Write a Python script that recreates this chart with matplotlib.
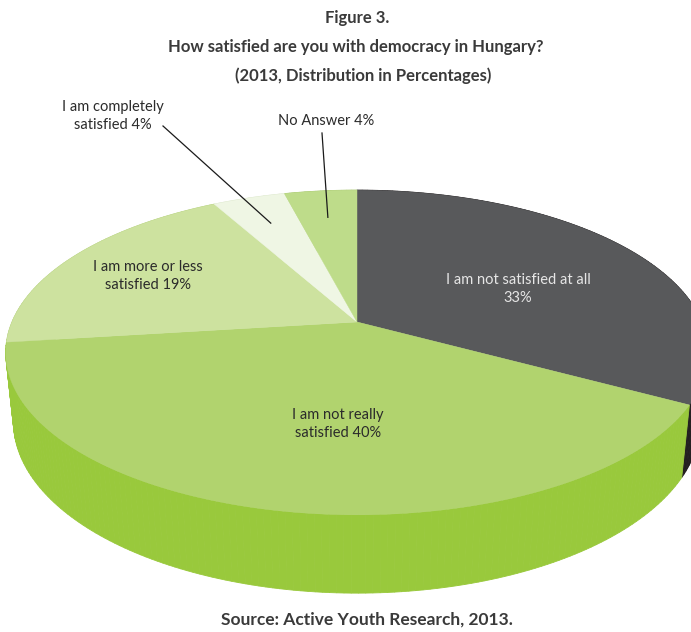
import numpy as np
import matplotlib.pyplot as plt
from matplotlib.patches import Polygon

plt.rcParams['font.family'] = ['Lato', 'DejaVu Sans']

# data
categories = ["I am not satisfied at all", "I am not really satisfied",
              "I am more or less satisfied", "I am completely satisfied", "No Answer"]
values = [33, 40, 19, 4, 4]
label_text = ["I am not satisfied at all\n{}%", "I am not really\nsatisfied {}%",
              "I am more or less\nsatisfied {}%", "I am completely\nsatisfied {}%",
              "No Answer {}%"]
top_colors = ["#58595b", "#b1d36e", "#cde29f", "#eff6e4", "#bedc8a"]
side_colors = ["#231f20", "#99c93c", "#b3cf7c", "#d6e3c4", "#a3c26b"]

# layout (pixel coords) for the labels; None -> inside the slice
label_pos = [(518, 289), (338, 424), (148, 276), (113, 116), (326, 121)]
label_color = ["#e6e6e6", "#2b2b2b", "#2b2b2b", "#2b2b2b", "#2b2b2b"]
leader = [False, False, False, True, True]

W, H = 691, 632
fig = plt.figure(figsize=(W / 100, H / 100), dpi=100)
ax = fig.add_axes([0, 0, 1, 1])
ax.set_xlim(0, W)
ax.set_ylim(H, 0)
ax.axis('off')

# simple perspective camera looking down at the pie
elev = np.radians(27)
dist = 4.75
focal = 1639
cx, cy = 357, 322
thick = 0.226


def project(theta, r=1.0, z=0.0):
    x = r * np.cos(theta)
    y = r * np.sin(theta)
    s, c = np.sin(elev), np.cos(elev)
    v = y * s + z * c
    w = dist + y * c - z * s
    return cx + focal * x / w, cy - focal * v / w


total = sum(values)
bounds = np.radians(90 - 360 * np.concatenate([[0], np.cumsum(values)]) / total)

# side walls, drawn far to near
pieces = []
for i in range(len(values)):
    a0, a1 = bounds[i], bounds[i + 1]
    n = max(2, int(abs(np.degrees(a1 - a0))))
    ts = np.linspace(a0, a1, n + 1)
    for t0, t1 in zip(ts[:-1], ts[1:]):
        p = [project(t0), project(t1), project(t1, z=-thick), project(t0, z=-thick)]
        pieces.append((np.sin((t0 + t1) / 2), p, side_colors[i]))
pieces.sort(key=lambda q: -q[0])
for _, p, col in pieces:
    ax.add_patch(Polygon(p, closed=True, facecolor=col, edgecolor=col, lw=0.6))

# top faces
for i in range(len(values)):
    ts = np.linspace(bounds[i], bounds[i + 1], 200)
    xs, ys = project(ts)
    pts = [(cx, cy)] + list(zip(xs, ys))
    ax.add_patch(Polygon(pts, closed=True, facecolor=top_colors[i],
                         edgecolor=top_colors[i], lw=0.3))

# labels
for i in range(len(values)):
    tx, ty = label_pos[i]
    ax.text(tx, ty, label_text[i].format(values[i]), ha='center', va='center',
            fontsize=10.5, color=label_color[i], linespacing=1.35)
    if leader[i]:
        mid = (bounds[i] + bounds[i + 1]) / 2
        px, py = project(mid, r=0.77)
        sx = tx + 50 if i == 3 else tx - 4
        sy = ty + 10 if i == 3 else ty + 12
        ax.plot([sx, px], [sy, py], color="#1a1a1a", lw=0.9)

title_col = "#3a3a3a"
ax.text(357, 18, "Figure 3.", ha='center', va='center', fontsize=12,
        fontweight='bold', color=title_col)
ax.text(356, 47, "How satisfied are you with democracy in Hungary?", ha='center',
        va='center', fontsize=12, fontweight='bold', color=title_col)
ax.text(363, 76, "(2013, Distribution in Percentages)", ha='center', va='center',
        fontsize=12, fontweight='bold', color=title_col)
ax.text(367, 620, "Source: Active Youth Research, 2013.", ha='center', va='center',
        fontsize=12.5, fontweight='bold', color=title_col)

fig.savefig("out.png", dpi=100)
